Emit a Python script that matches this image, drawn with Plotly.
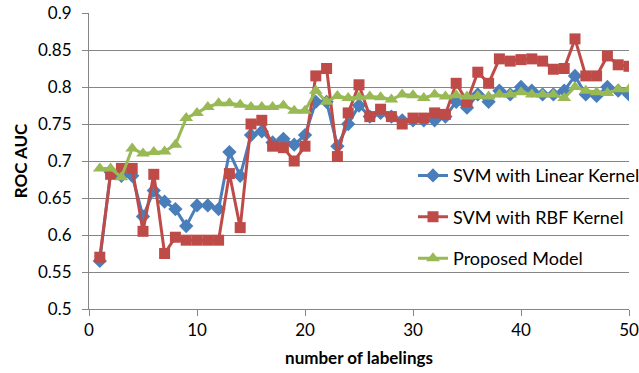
import plotly.graph_objects as go

x_vals = list(range(1, 51))

svm_linear = [0.565, 0.685, 0.68, 0.68, 0.625, 0.66, 0.645, 0.635, 0.612, 0.64,
              0.64, 0.635, 0.712, 0.68, 0.735, 0.74, 0.725, 0.73, 0.722, 0.735,
              0.78, 0.78, 0.72, 0.75, 0.775, 0.76, 0.765, 0.76, 0.755, 0.755,
              0.755, 0.755, 0.76, 0.78, 0.772, 0.79, 0.78, 0.795, 0.79, 0.8,
              0.795, 0.79, 0.79, 0.795, 0.815, 0.79, 0.788, 0.8, 0.795, 0.79]

svm_rbf = [0.57, 0.682, 0.69, 0.69, 0.605, 0.682, 0.575, 0.597, 0.593, 0.593,
           0.593, 0.593, 0.683, 0.61, 0.75, 0.755, 0.72, 0.718, 0.7, 0.72,
           0.815, 0.825, 0.706, 0.765, 0.803, 0.76, 0.77, 0.76, 0.75, 0.758,
           0.758, 0.765, 0.763, 0.805, 0.78, 0.82, 0.805, 0.838, 0.835, 0.837,
           0.838, 0.835, 0.824, 0.825, 0.865, 0.815, 0.815, 0.842, 0.83, 0.828]

proposed = [0.69, 0.69, 0.678, 0.717, 0.71, 0.712, 0.713, 0.722, 0.758, 0.765,
            0.773, 0.778, 0.778, 0.776, 0.773, 0.773, 0.773, 0.775, 0.768, 0.768,
            0.795, 0.78, 0.788, 0.785, 0.786, 0.787, 0.786, 0.783, 0.79, 0.789,
            0.785, 0.79, 0.787, 0.789, 0.787, 0.788, 0.787, 0.79, 0.79, 0.793,
            0.79, 0.79, 0.79, 0.785, 0.8, 0.795, 0.793, 0.792, 0.797, 0.797]

series_names = ["SVM with Linear Kernel", "SVM with RBF Kernel", "Proposed Model"]
y_ticks = [0.5, 0.55, 0.6, 0.65, 0.7, 0.75, 0.8, 0.85, 0.9]
y_tick_labels = ["0.5", "0.55", "0.6", "0.65", "0.7", "0.75", "0.8", "0.85", "0.9"]
x_ticks = [0, 10, 20, 30, 40, 50]

FONT = "Lato"

fig = go.Figure()
fig.add_trace(go.Scatter(
    x=x_vals, y=svm_linear, name=series_names[0], mode="lines+markers",
    legendgroup="a",
    line=dict(color="#4A7EBB", width=3),
    marker=dict(symbol="diamond", size=11, color="#4A7EBB"),
))
fig.add_trace(go.Scatter(
    x=x_vals, y=svm_rbf, name=series_names[1], mode="lines+markers",
    legendgroup="b",
    line=dict(color="#BE4B48", width=3),
    marker=dict(symbol="square", size=11, color="#BE4B48"),
))
fig.add_trace(go.Scatter(
    x=x_vals, y=proposed, name=series_names[2], mode="lines+markers",
    legendgroup="c",
    line=dict(color="#98B954", width=3),
    marker=dict(symbol="triangle-up", size=12, color="#98B954"),
))

axis_common = dict(
    showline=True, linecolor="#868686", linewidth=1,
    ticks="outside", ticklen=6, tickcolor="#868686",
    tickfont=dict(family=FONT, size=17, color="#000000"),
    zeroline=False, automargin=False,
)

fig.update_xaxes(
    range=[0, 50], tickvals=x_ticks, showgrid=False,
    title=dict(text="<b>number of labelings</b>", font=dict(family=FONT, size=17, color="#000000"), standoff=12),
    **axis_common,
)
fig.update_yaxes(
    range=[0.5, 0.9], tickvals=y_ticks, ticktext=y_tick_labels,
    showgrid=True, gridcolor="#868686", gridwidth=1,
    ticklabelstandoff=7,
    title=dict(text="<b>ROC AUC</b>", font=dict(family=FONT, size=17, color="#000000"), standoff=6),
    **axis_common,
)

fig.update_layout(
    width=639, height=373,
    margin=dict(l=89, r=10, t=13, b=64, autoexpand=False),
    paper_bgcolor="white", plot_bgcolor="white",
    font=dict(family=FONT, size=15, color="#000000"),
    legend=dict(
        x=0.6, y=0.31, xanchor="left", yanchor="middle",
        bgcolor="rgba(0,0,0,0)", tracegroupgap=15,
        font=dict(family=FONT, size=18, color="#000000"),
        itemwidth=30,
    ),
    showlegend=True,
)

fig.write_html("out.html")
